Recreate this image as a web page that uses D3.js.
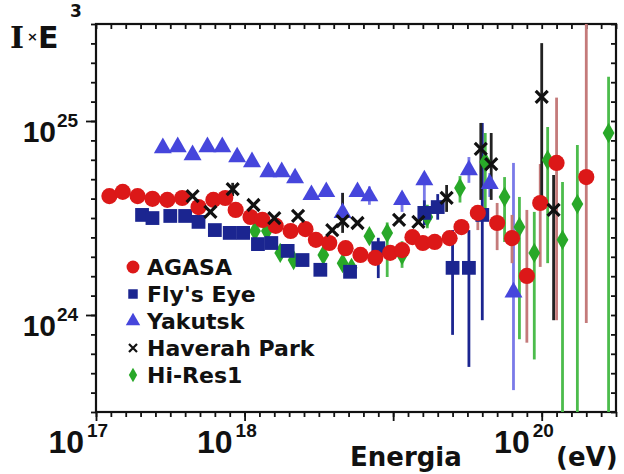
<!DOCTYPE html>
<html><head><meta charset="utf-8">
<script src="https://cdn.jsdelivr.net/npm/d3@7"></script>
<style>body{margin:0;background:#fff}svg{display:block}</style>
</head><body>
<svg id="c" width="624" height="474"></svg>
<script>
// ---- data (energy as log10(E/eV); flux I*E^3 in units of 1e24) ----
const xTickExps = [17, 18, 20];
const yTickExps = [24, 25];
const seriesNames = ["AGASA", "Fly's Eye", "Yakutsk", "Haverah Park", "Hi-Res1"];

const agasaE = [17.09,17.18,17.28,17.38,17.48,17.58,17.69,17.79,17.87,17.94,18.04,18.12,18.21,18.31,18.41,18.48,18.57,18.68,18.78,18.88,18.98,19.06,19.13,19.20,19.28,19.38,19.46,19.57,19.70,19.80,19.90,19.99,20.10,20.30];
const agasaV = [4.10,4.31,4.10,3.97,3.92,4.01,3.60,3.92,4.01,3.48,3.20,3.09,2.88,2.71,2.77,2.44,2.35,2.21,2.04,1.97,2.09,2.16,2.52,2.35,2.38,2.49,2.84,3.36,2.98,2.49,1.59,3.78,6.08,5.14];
const agasaLo = [null,null,null,null,null,null,null,null,null,null,null,null,null,null,null,null,null,null,null,null,null,null,null,null,null,null,2.6,2.74,2.16,1.85,0.72,1.77,0.94,0.91];
const agasaHi = [null,null,null,null,null,null,null,null,null,null,null,null,null,null,null,null,null,null,null,null,null,null,null,null,null,null,3.1,3.60,3.78,3.28,3.48,6.0,13.2,40];

const flyE = [17.31,17.38,17.50,17.60,17.69,17.80,17.90,17.99,18.09,18.18,18.29,18.39,18.51,18.71,18.90,19.21,19.30,19.40,19.51,19.60];
const flyV = [3.28,3.16,3.24,3.24,3.02,2.74,2.65,2.65,2.32,2.35,2.14,1.92,1.71,1.67,2.21,3.36,3.60,1.75,1.75,3.28];
const flyLo = [null,null,null,null,null,null,null,null,null,null,null,null,null,null,1.55,2.9,3.1,0.79,0.54,0.94];
const flyHi = [null,null,null,null,null,null,null,null,null,null,null,null,null,null,2.5,3.9,4.2,2.74,2.74,9.77];

const yakE = [17.45,17.55,17.65,17.75,17.85,17.95,18.05,18.16,18.25,18.34,18.45,18.55,18.66,18.76,18.84,19.06,19.21,19.51,19.65,19.81];
const yakV = [7.26,7.35,6.68,7.35,7.35,6.52,6.15,5.46,5.46,5.08,4.16,4.31,3.36,4.31,4.10,3.92,4.96,5.59,4.74,1.31];
const yakLo = [null,null,null,null,null,null,null,null,null,null,null,null,3.0,null,3.7,3.4,3.36,4.8,4.06,0.41];
const yakHi = [null,null,null,null,null,null,null,null,null,null,null,null,4.26,null,4.6,4.3,5.3,6.52,5.39,6.08];

const hpE = [17.65,17.77,17.92,18.06,18.20,18.36,18.59,18.66,18.76,19.04,19.17,19.36,19.59,19.66,20.00,20.08];
const hpV = [4.10,3.40,4.46,3.69,3.16,3.24,2.74,3.05,2.98,3.09,3.02,4.01,7.18,6.00,13.3,3.48];
const hpLo = [null,null,4.1,null,null,null,null,2.65,null,null,null,3.4,3.92,3.92,3.92,0.94];
const hpHi = [null,null,4.8,null,null,null,null,4.26,null,null,null,4.68,9.77,8.67,25.2,5.27];

const hrE = [18.07,18.15,18.24,18.33,18.53,18.66,18.72,18.84,18.96,19.06,19.23,19.45,19.62,19.75,19.85,19.95,20.04,20.14,20.24,20.45];
const hrV = [2.71,2.71,2.09,1.92,2.04,1.85,1.75,2.55,2.65,2.04,3.20,4.52,6.15,4.06,2.84,2.09,6.29,2.44,3.73,8.67];
const hrLo = [null,null,null,null,null,null,null,null,1.57,1.75,2.8,3.8,3.48,2.38,0.75,0.59,1.85,0.2,0.2,0.2];
const hrHi = [null,null,null,null,null,null,null,null,3.0,2.4,3.7,5.2,8.67,5.14,4.06,3.40,9.31,4.85,7.52,16.9];

// ---- layout ----
const svg = d3.select("#c");
const L = 96, R = 616, T = 24, B = 412;
const x = d3.scaleLog().domain([1e17, Math.pow(10, 20.5)]).range([L, R]);
const y = d3.scaleLog().domain([Math.pow(10, 23.5), Math.pow(10, 25.5)]).range([B, T]);
const U = 1e24;

svg.append("defs").append("clipPath").attr("id", "clip")
  .append("rect").attr("x", L).attr("y", T).attr("width", R - L).attr("height", B - T);

const minorX = d3.range(0, 36).map(i => Math.pow(10, 17 + i / 10));
const majorX = d3.range(17, 21).map(e => Math.pow(10, e));
const minorY = d3.range(0, 21).map(i => Math.pow(10, 23.5 + i / 10));
const majorY = yTickExps.map(e => Math.pow(10, e));

function styleAxis(g) {
  g.select(".domain").remove();
  g.selectAll("line").attr("stroke", "#111").attr("stroke-width", 1.8);
}
svg.append("g").attr("transform", `translate(0,${B})`)
  .call(d3.axisBottom(x).tickValues(minorX).tickSize(5).tickFormat("")).call(styleAxis);
svg.append("g").attr("transform", `translate(0,${B})`)
  .call(d3.axisBottom(x).tickValues(majorX).tickSize(9).tickFormat("")).call(styleAxis);
svg.append("g").attr("transform", `translate(0,${T})`)
  .call(d3.axisTop(x).tickValues(minorX).tickSize(-5).tickFormat("")).call(styleAxis);
svg.append("g").attr("transform", `translate(${L},0)`)
  .call(d3.axisLeft(y).tickValues(minorY).tickSize(5).tickFormat("")).call(styleAxis);
svg.append("g").attr("transform", `translate(${L},0)`)
  .call(d3.axisLeft(y).tickValues(majorY).tickSize(10).tickFormat("")).call(styleAxis);
svg.append("g").attr("transform", `translate(${R},0)`)
  .call(d3.axisRight(y).tickValues(minorY).tickSize(-5).tickFormat("")).call(styleAxis);

svg.append("rect").attr("x", L).attr("y", T).attr("width", R - L).attr("height", B - T)
  .attr("fill", "none").attr("stroke", "#111").attr("stroke-width", 2.2);

// tick labels
const tickFont = "'Liberation Sans', Arial, sans-serif";
xTickExps.forEach(e => {
  const px = x(Math.pow(10, e));
  svg.append("text").attr("x", px - 12).attr("y", 453).attr("text-anchor", "end")
    .attr("font-family", tickFont).attr("font-weight", "bold").attr("font-size", 32).attr("fill", "#111").text("10");
  svg.append("text").attr("x", px - 9).attr("y", 437)
    .attr("font-family", tickFont).attr("font-weight", "bold").attr("font-size", 19).attr("fill", "#111").text(String(e));
});
yTickExps.forEach(e => {
  const py = y(Math.pow(10, e));
  svg.append("text").attr("x", 56).attr("y", py + 21).attr("text-anchor", "end")
    .attr("font-family", tickFont).attr("font-weight", "bold").attr("font-size", 30).attr("fill", "#111").text("10");
  svg.append("text").attr("x", 57).attr("y", py + 6)
    .attr("font-family", tickFont).attr("font-weight", "bold").attr("font-size", 19).attr("fill", "#111").text(String(e));
});

// axis titles
const vFont = "'DejaVu Sans', Verdana, sans-serif";
svg.append("text").attr("x", 350).attr("y", 466).attr("font-family", vFont).attr("font-weight", "bold")
  .attr("font-size", 26).attr("fill", "#111").text("Energia");
svg.append("text").attr("x", 556).attr("y", 466).attr("font-family", vFont).attr("font-weight", "bold")
  .attr("font-size", 26).attr("fill", "#111").text("(eV)");
svg.append("text").attr("x", 10).attr("y", 48).attr("font-family", "'DejaVu Serif', serif").attr("font-weight", "bold")
  .attr("font-size", 30).attr("fill", "#111").text("I");
svg.append("text").attr("x", 27).attr("y", 41).attr("font-family", vFont).attr("font-weight", "bold")
  .attr("font-size", 13).attr("fill", "#111").text("×");
svg.append("text").attr("x", 38).attr("y", 48).attr("font-family", vFont).attr("font-weight", "bold")
  .attr("font-size", 30).attr("fill", "#111").text("E");
svg.append("text").attr("x", 70).attr("y", 17).attr("font-family", vFont).attr("font-weight", "bold")
  .attr("font-size", 17).attr("fill", "#111").text("3");

// ---- series ----
const timesPath = "M-6,-6L6,6M-6,6L6,-6";
const series = [
  {E: hrE, V: hrV, lo: hrLo, hi: hrHi, fill: "#28a828", bar: "#4cbc4c", shape: d3.symbolDiamond, size: 120},
  {E: yakE, V: yakV, lo: yakLo, hi: yakHi, fill: "#4646dc", bar: "#7a7ae8", shape: d3.symbolTriangle, size: 140},
  {E: flyE, V: flyV, lo: flyLo, hi: flyHi, fill: "#1b2590", bar: "#1b2590", shape: d3.symbolSquare, size: 190},
  {E: agasaE, V: agasaV, lo: agasaLo, hi: agasaHi, fill: "#dc1818", bar: "#c47a7a", shape: d3.symbolCircle, size: 205},
  {E: hpE, V: hpV, lo: hpLo, hi: hpHi, fill: "#111", bar: "#222", shape: null, size: 0}
];

const barsG = svg.append("g").attr("clip-path", "url(#clip)");
series.forEach(s => {
  s.E.forEach((e, i) => {
    if (s.lo[i] == null) return;
    barsG.append("line").attr("x1", x(Math.pow(10, e))).attr("x2", x(Math.pow(10, e)))
      .attr("y1", y(s.lo[i] * U)).attr("y2", y(s.hi[i] * U))
      .attr("stroke", s.bar).attr("stroke-width", 2.8);
  });
});
const marksG = svg.append("g");
series.forEach(s => {
  s.E.forEach((e, i) => {
    const tx = x(Math.pow(10, e)), ty = y(s.V[i] * U);
    if (s.shape) {
      marksG.append("path").attr("d", d3.symbol(s.shape, s.size)())
        .attr("transform", `translate(${tx},${ty})`).attr("fill", s.fill);
    } else {
      marksG.append("path").attr("d", timesPath).attr("transform", `translate(${tx},${ty})`)
        .attr("stroke", s.fill).attr("stroke-width", 3.2).attr("fill", "none");
    }
  });
});

// ---- legend ----
const legShapes = [
  {shape: d3.symbolCircle, size: 130, fill: "#dc1818"},
  {shape: d3.symbolSquare, size: 90, fill: "#1b2590"},
  {shape: d3.symbolTriangle, size: 90, fill: "#4646dc"},
  {shape: null, fill: "#111"},
  {shape: d3.symbolDiamond, size: 60, fill: "#28a828"}
];
seriesNames.forEach((n, i) => {
  const cy = 267 + i * 27;
  const m = legShapes[i];
  if (m.shape) {
    svg.append("path").attr("d", d3.symbol(m.shape, m.size)()).attr("transform", `translate(133,${cy})`).attr("fill", m.fill);
  } else {
    svg.append("path").attr("d", "M-4,-4L4,4M-4,4L4,-4").attr("transform", `translate(133,${cy})`)
      .attr("stroke", m.fill).attr("stroke-width", 2.2);
  }
  svg.append("text").attr("x", 147).attr("y", cy + 8).attr("font-family", vFont).attr("font-weight", "bold")
    .attr("font-size", 22).attr("fill", "#111").text(n);
});
</script>
</body></html>
